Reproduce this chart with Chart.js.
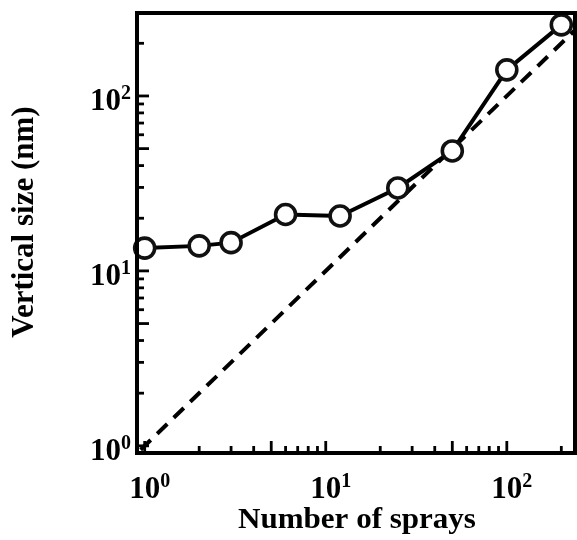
<!DOCTYPE html>
<html>
<head>
<meta charset="utf-8">
<script src="https://cdn.jsdelivr.net/npm/chart.js@4"></script>
<style>
  html, body { margin: 0; padding: 0; background: #fff; overflow: hidden; }
  canvas { display: block; }
</style>
</head>
<body>
<canvas id="myChart" width="577" height="540"></canvas>
<script>
// data
const sprays = [1, 2, 3, 6, 12, 25, 50, 100, 200];
const sizes = [13.5, 13.9, 14.5, 21, 20.6, 29.8, 48.5, 141, 255];
// reference line y = x
const refLine = [0.95, 240];

const xTitle = 'Number of sprays';
const yTitle = 'Vertical size (nm)';
const xDecades = [0, 1, 2];
const yDecades = [0, 1, 2];

const FONT = '"Liberation Serif", "Times New Roman", serif';

function powLabel(ctx, x, y, exp, mode) {
  ctx.save();
  ctx.fillStyle = '#000';
  ctx.textBaseline = 'alphabetic';
  ctx.textAlign = 'left';
  ctx.font = 'bold 31px ' + FONT;
  const wBase = ctx.measureText('10').width;
  ctx.font = 'bold 20px ' + FONT;
  const wExp = ctx.measureText(String(exp)).width;
  const bx = mode === 'x' ? x - wBase / 2 : x - wBase - wExp;
  ctx.font = 'bold 31px ' + FONT;
  ctx.fillText('10', bx, y);
  ctx.font = 'bold 20px ' + FONT;
  ctx.fillText(String(exp), bx + wBase, y - 11);
  ctx.restore();
}

const framePlugin = {
  id: 'frame',
  afterDatasetsDraw(chart) {
    const { ctx, chartArea: a, scales } = chart;
    const xs = scales.x, ys = scales.y;
    ctx.save();
    ctx.strokeStyle = '#000';
    ctx.lineCap = 'butt';

    // ticks, pointing inward, left and bottom only
    ctx.lineWidth = 2.8;
    for (let d = -1; d <= 3; d++) {
      for (let m = 1; m <= 9; m++) {
        const v = m * Math.pow(10, d);
        const len = (m === 1 || m === 5) ? 12 : 7;
        if (v >= xs.min && v <= xs.max) {
          const px = xs.getPixelForValue(v);
          ctx.beginPath();
          ctx.moveTo(px, a.bottom);
          ctx.lineTo(px, a.bottom - len);
          ctx.stroke();
        }
        if (v >= ys.min && v <= ys.max) {
          const py = ys.getPixelForValue(v);
          ctx.beginPath();
          ctx.moveTo(a.left, py);
          ctx.lineTo(a.left + len, py);
          ctx.stroke();
        }
      }
    }

    // box
    ctx.lineWidth = 4;
    ctx.strokeRect(a.left, a.top, a.right - a.left, a.bottom - a.top);

    // tick labels
    xDecades.forEach(e => {
      powLabel(ctx, xs.getPixelForValue(Math.pow(10, e)), 498, e, 'x');
    });
    yDecades.forEach(e => {
      powLabel(ctx, 131, ys.getPixelForValue(Math.pow(10, e)) + 14, e, 'y');
    });

    // axis titles
    ctx.fillStyle = '#000';
    ctx.textAlign = 'center';
    ctx.textBaseline = 'alphabetic';
    ctx.save();
    ctx.font = 'bold 29px ' + FONT;
    ctx.translate(357, 528);
    ctx.scale(1.07, 1);
    ctx.fillText(xTitle, 0, 0);
    ctx.restore();
    ctx.save();
    ctx.font = 'bold 31px ' + FONT;
    ctx.translate(33, 222);
    ctx.rotate(-Math.PI / 2);
    ctx.fillText(yTitle, 0, 0);
    ctx.restore();

    ctx.restore();
  }
};

const ctx = document.getElementById('myChart').getContext('2d');
const myChart = new Chart(ctx, {
  type: 'line',
  data: {
    datasets: [
      {
        label: 'Vertical size',
        data: sprays.map((s, i) => ({ x: s, y: sizes[i] })),
        borderColor: '#000',
        borderWidth: 4,
        backgroundColor: '#fff',
        pointBackgroundColor: '#fff',
        pointBorderColor: '#111',
        pointBorderWidth: 3.6,
        pointRadius: 10,
        tension: 0,
        clip: false
      },
      {
        label: 'y = x',
        data: refLine.map(v => ({ x: v, y: v })),
        borderColor: '#000',
        borderWidth: 4,
        borderDash: [14, 9],
        pointRadius: 0,
        tension: 0,
        clip: 0
      }
    ]
  },
  options: {
    responsive: false,
    animation: false,
    layout: {
      autoPadding: false,
      padding: { left: 137, top: 13, right: 2, bottom: 87 }
    },
    plugins: {
      legend: { display: false },
      tooltip: { enabled: false }
    },
    scales: {
      x: {
        type: 'logarithmic',
        display: false,
        min: 0.907,
        max: 238
      },
      y: {
        type: 'logarithmic',
        display: false,
        min: 0.91,
        max: 298
      }
    }
  },
  plugins: [framePlugin]
});
</script>
</body>
</html>
